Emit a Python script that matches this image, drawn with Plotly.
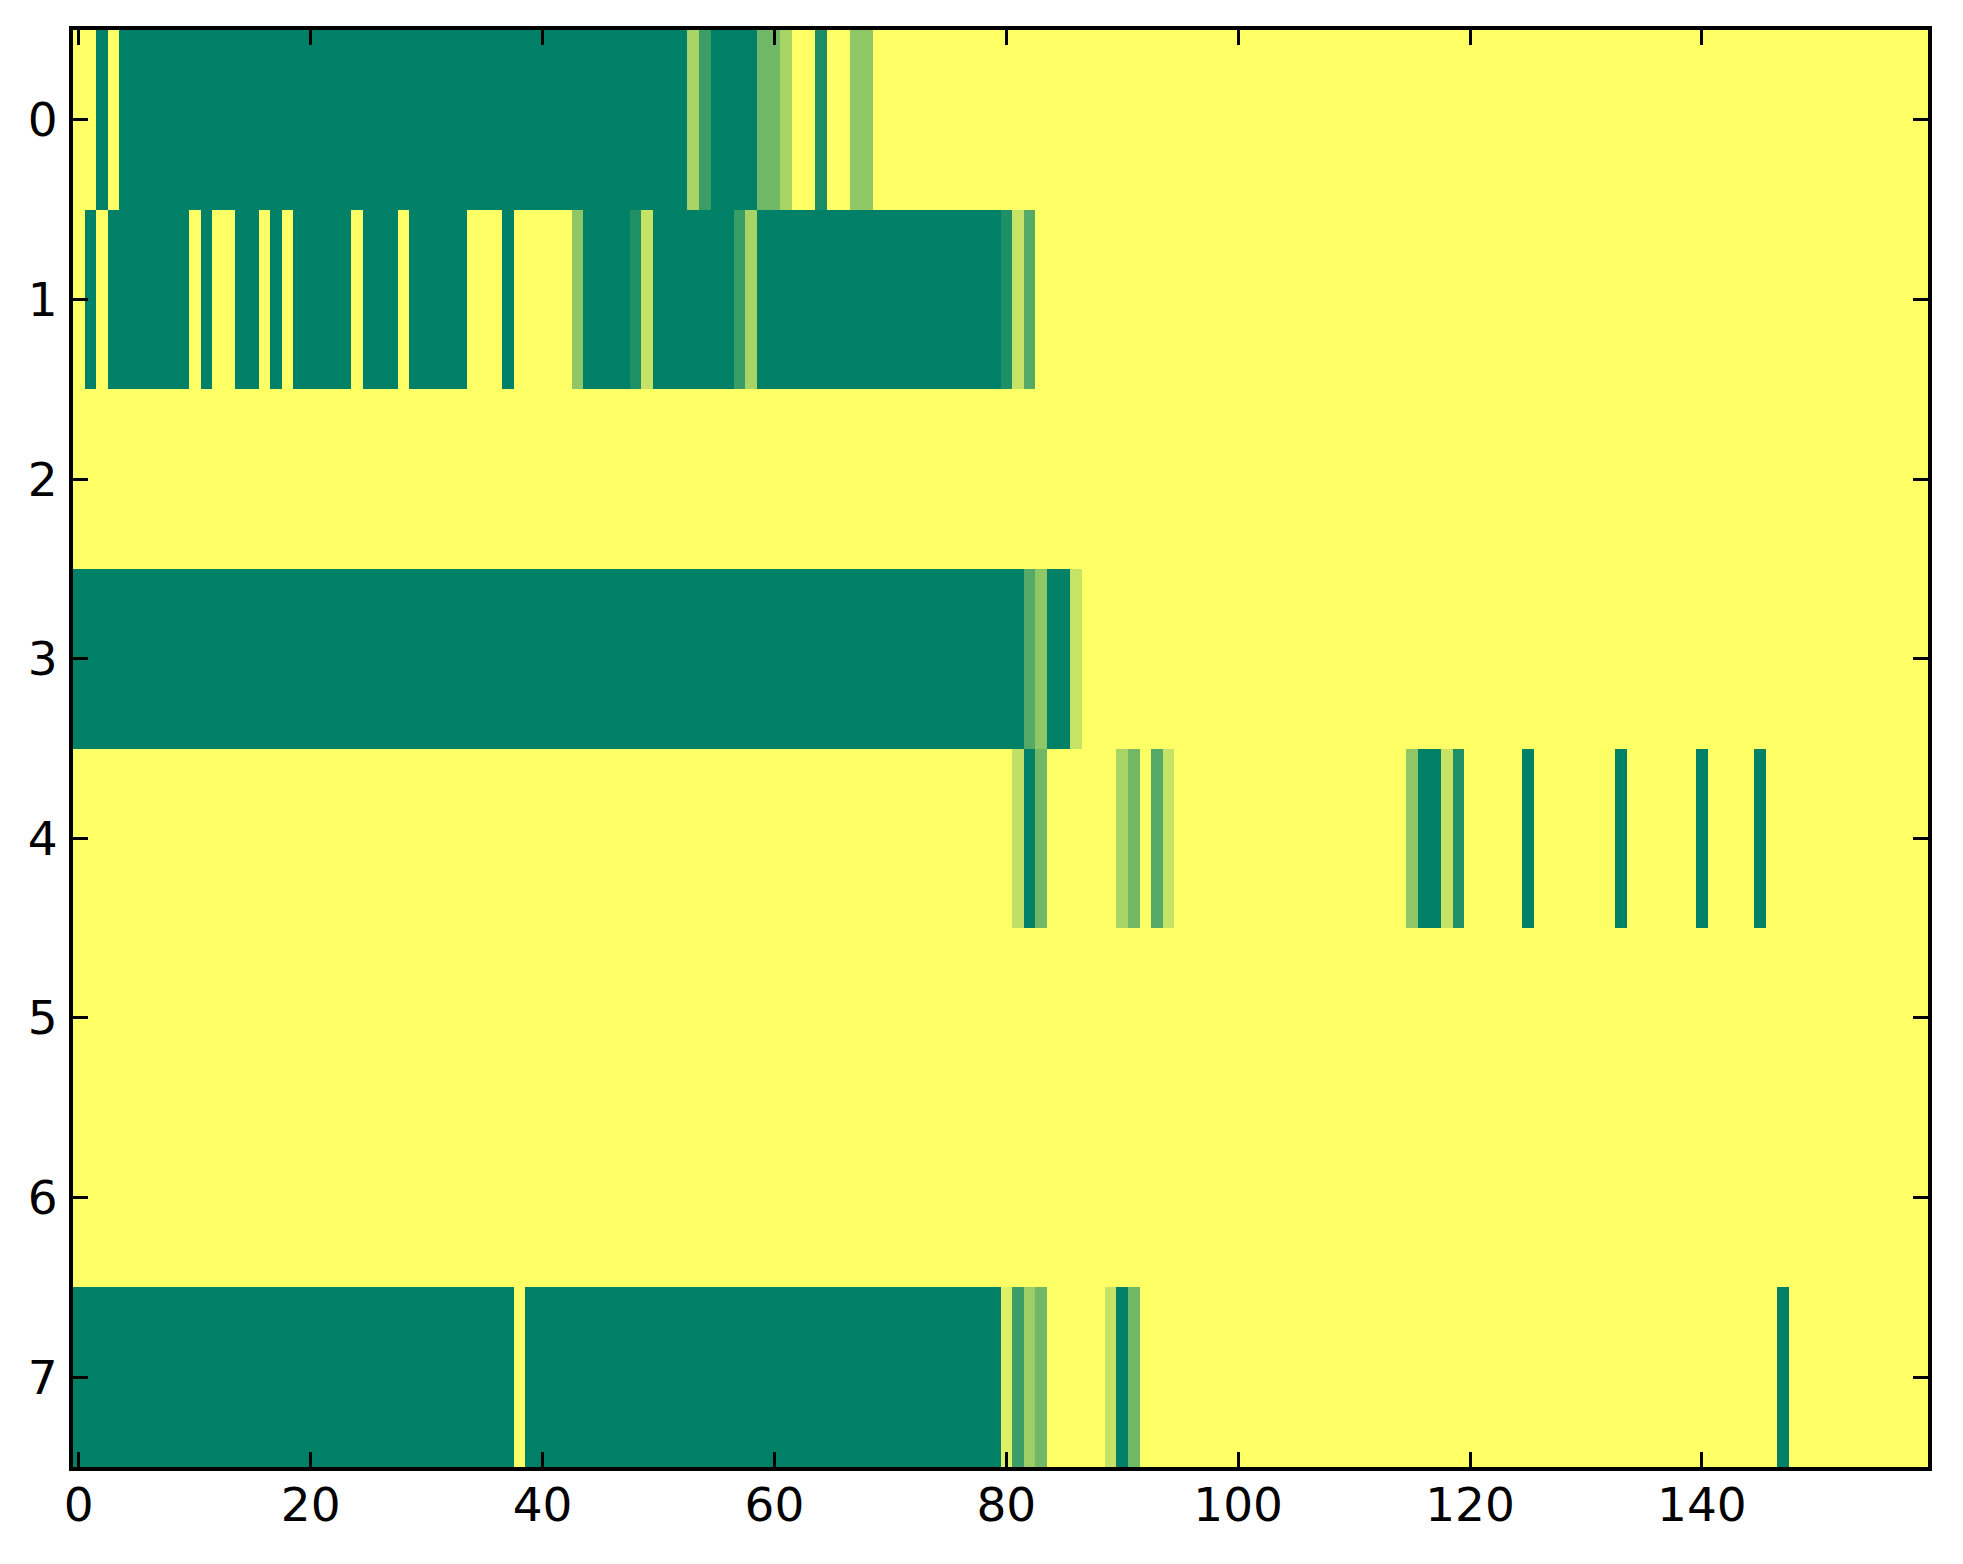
"""
Occupancy heatmap: 8 tracks x 160 slots, summer colour map.
"""

import plotly.graph_objects as go

# values per track, 0 = dark green, 1 = yellow
row0 = ([1.0] * 2 + [0.0] + [1.0] + [0.0] * 49 + [0.66] + [0.23] + [0.0] * 4
        + [0.44] * 2 + [0.66] + [1.0] * 2 + [0.1] + [1.0] * 2 + [0.56] * 2 + [1.0] * 91)
row1 = ([1.0] + [0.0] + [1.0] + [0.0] * 7 + [1.0] + [0.0] + [1.0] * 2 + [0.0] * 2
        + [1.0] + [0.0] + [1.0] + [0.0] * 5 + [1.0] + [0.0] * 3 + [1.0] + [0.0] * 5
        + [1.0] * 3 + [0.0] + [1.0] * 5 + [0.56] + [0.0] * 4 + [0.12] + [0.78]
        + [0.0] * 7 + [0.23] + [0.66] + [0.0] * 21 + [0.12] + [0.78] + [0.33] + [1.0] * 77)
row2 = [1.0] * 160
row3 = [0.0] * 82 + [0.33] + [0.56] + [0.0] * 2 + [0.78] + [1.0] * 73
row4 = ([1.0] * 81 + [0.75] + [0.0] + [0.44] + [1.0] * 6 + [0.66] + [0.44] + [1.0]
        + [0.33] + [0.78] + [1.0] * 20 + [0.56] + [0.0] * 2 + [0.78] + [0.12]
        + [1.0] * 5 + [0.0] + [1.0] * 7 + [0.0] + [1.0] * 6 + [0.0] + [1.0] * 4
        + [0.0] + [1.0] * 14)
row5 = [1.0] * 160
row6 = [1.0] * 160
row7 = ([0.0] * 38 + [1.0] + [0.0] * 41 + [0.88] + [0.23] + [0.62] + [0.44]
        + [1.0] * 5 + [0.78] + [0.0] + [0.44] + [1.0] * 55 + [0.0] + [1.0] * 12)

z = [row0, row1, row2, row3, row4, row5, row6, row7]

x_ticks = [0, 20, 40, 60, 80, 100, 120, 140]
y_ticks = [0, 1, 2, 3, 4, 5, 6, 7]

# matplotlib "summer" is linear from (0, .5, .4) to (1, 1, .4)
SUMMER = [[0.0, "rgb(0,128,102)"], [1.0, "rgb(255,255,102)"]]

fig = go.Figure(
    go.Heatmap(
        z=z,
        colorscale=SUMMER,
        zmin=0,
        zmax=1,
        showscale=False,
        hoverinfo="skip",
    )
)

axis_style = dict(
    showline=True,
    linecolor="black",
    linewidth=4,
    mirror="allticks",
    ticks="inside",
    ticklen=15,
    tickwidth=2.5,
    tickcolor="black",
    showgrid=False,
    zeroline=False,
    tickfont=dict(family="DejaVu Sans", size=47, color="black"),
)

fig.update_xaxes(
    range=[-0.5, 159.5],
    tickvals=x_ticks,
    ticklabelstandoff=-6,
    **axis_style,
)
fig.update_yaxes(
    range=[7.5, -0.5],
    tickvals=y_ticks,
    ticklabelstandoff=2,
    **axis_style,
)

fig.update_layout(
    width=1947,
    height=1548,
    margin=dict(l=65, r=27, t=22, b=89),
    paper_bgcolor="white",
    plot_bgcolor="white",
)

fig.write_html("out.html")
